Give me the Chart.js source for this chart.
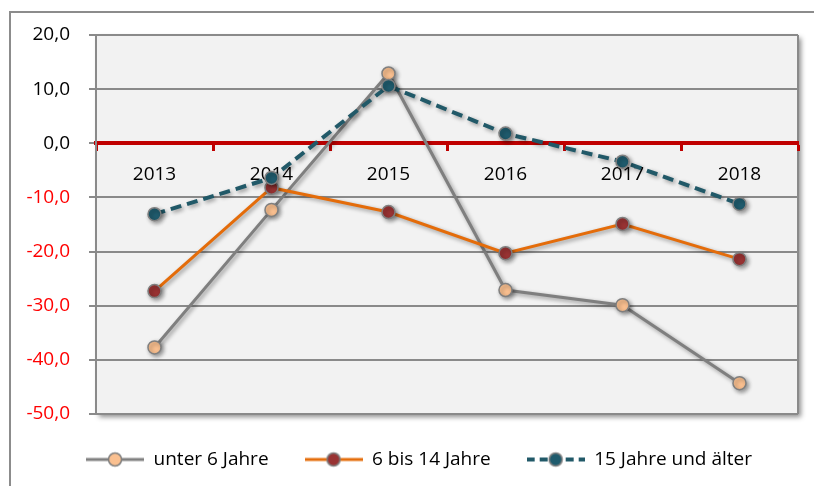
<!DOCTYPE html>
<html>
<head>
<meta charset="utf-8">
<script src="https://cdn.jsdelivr.net/npm/chart.js@4.4.1/dist/chart.umd.min.js"></script>
<style>
  html, body { margin: 0; padding: 0; background: #fff; }
  #wrap { width: 814px; height: 486px; }
</style>
</head>
<body>
<div id="wrap"><canvas id="chart" width="814" height="486"></canvas></div>
<script>
const years = [`2013`, `2014`, `2015`, `2016`, `2017`, `2018`];
const seriesNames = [`unter 6 Jahre`, `6 bis 14 Jahre`, `15 Jahre und älter`];
const under6 = [-37.7, -12.3, 12.9, -27.1, -29.9, -44.3];
const age6to14 = [-27.3, -8.2, -12.7, -20.3, -14.9, -21.4];
const age15plus = [-13.1, -6.4, 10.6, 1.8, -3.4, -11.2];
const yTicks = [20, 10, 0, -10, -20, -30, -40, -50];

const GRID_GRAY = `#8a8a8a`;
const ZERO_RED = `#c00000`;
const FONT = `'Open Sans', 'Liberation Sans', sans-serif`;

// little line + marker picture for the legend, like the excel one
const makeLegendIcon = (lineColor, lineWidth, dash, fill) => {
  const c = document.createElement(`canvas`);
  c.width = 58;
  c.height = 18;
  const g = c.getContext(`2d`);
  g.strokeStyle = lineColor;
  g.lineWidth = lineWidth;
  g.setLineDash(dash);
  g.beginPath();
  g.moveTo(0, 9);
  g.lineTo(58, 9);
  g.stroke();
  g.setLineDash([]);
  g.beginPath();
  g.arc(29, 9, 6.5, 0, Math.PI * 2);
  g.fillStyle = fill;
  g.fill();
  g.strokeStyle = `#7f7f7f`;
  g.lineWidth = 1.5;
  g.stroke();
  return c;
};

const legendIcons = [
  makeLegendIcon(`#7f7f7f`, 3, [], `#fac090`),
  makeLegendIcon(`#e46c0a`, 3, [], `#993333`),
  makeLegendIcon(`#215968`, 4, [8, 5], `#1f5b6d`),
];

const frameAndPlot = {
  id: `frameAndPlot`,
  afterInit(chart) {
    const fit = chart.legend.fit;
    chart.legend.fit = function () {
      fit.call(this);
      this.height = 72;
    };
  },
  afterLayout(chart) {
    // legend sits a bit right of the canvas middle in the original
    chart.legend.left = 40;
  },
  beforeDraw(chart) {
    const {ctx, chartArea: a} = chart;
    ctx.save();
    ctx.strokeStyle = `#8c8c8c`;
    ctx.lineWidth = 2;
    ctx.strokeRect(10, 12, 900, 600);
    ctx.shadowColor = `rgba(0, 0, 0, 0.45)`;
    ctx.shadowBlur = 5;
    ctx.shadowOffsetX = 3;
    ctx.shadowOffsetY = 3;
    ctx.fillStyle = `#f2f2f2`;
    ctx.fillRect(a.left, a.top, a.right - a.left, a.bottom - a.top);
    ctx.restore();
    ctx.save();
    ctx.strokeStyle = GRID_GRAY;
    ctx.lineWidth = 2;
    ctx.beginPath();
    ctx.moveTo(a.right, a.top);
    ctx.lineTo(a.right, a.bottom);
    ctx.stroke();
    ctx.restore();
  },
  beforeDatasetsDraw(chart) {
    const {ctx} = chart;
    ctx.save();
    ctx.shadowColor = `rgba(0, 0, 0, 0.4)`;
    ctx.shadowBlur = 4;
    ctx.shadowOffsetX = 2;
    ctx.shadowOffsetY = 2;
  },
  afterDatasetsDraw(chart) {
    chart.ctx.restore();
  },
};

const pointOpts = {
  pointRadius: 6.5,
  pointHoverRadius: 6.5,
  pointBorderWidth: 1.5,
  pointBorderColor: `#7f7f7f`,
  tension: 0,
};

new Chart(document.getElementById(`chart`).getContext(`2d`), {
  type: `line`,
  data: {
    labels: years,
    datasets: [
      Object.assign({
        label: seriesNames[0],
        data: under6,
        borderColor: `#7f7f7f`,
        borderWidth: 3,
        pointBackgroundColor: `#fac090`,
        order: 3,
      }, pointOpts),
      Object.assign({
        label: seriesNames[1],
        data: age6to14,
        borderColor: `#e46c0a`,
        borderWidth: 3,
        pointBackgroundColor: `#993333`,
        order: 2,
      }, pointOpts),
      Object.assign({
        label: seriesNames[2],
        data: age15plus,
        borderColor: `#215968`,
        borderWidth: 4,
        borderDash: [11, 6],
        pointBackgroundColor: `#1f5b6d`,
        order: 1,
      }, pointOpts),
    ],
  },
  options: {
    responsive: false,
    animation: false,
    events: [],
    layout: {padding: {left: 20, right: 16, top: 35, bottom: 0}},
    plugins: {
      tooltip: {enabled: false},
      legend: {
        position: `bottom`,
        labels: {
          usePointStyle: true,
          pointStyleWidth: 58,
          padding: 36,
          color: `#000`,
          font: {family: FONT, size: 19},
          generateLabels: (chart) => Chart.defaults.plugins.legend.labels.generateLabels(chart)
            .sort((a, b) => a.datasetIndex - b.datasetIndex)
            .map((item) => Object.assign(item, {pointStyle: legendIcons[item.datasetIndex]})),
        },
      },
    },
    scales: {
      x: {
        type: `category`,
        offset: true,
        position: {y: 0},
        border: {color: ZERO_RED, width: 4},
        grid: {
          offset: true,
          drawOnChartArea: false,
          drawTicks: true,
          tickLength: 6,
          tickColor: ZERO_RED,
          tickWidth: 3,
        },
        ticks: {
          color: `#000`,
          padding: 14,
          maxRotation: 0,
          font: {family: FONT, size: 19},
        },
      },
      y: {
        min: yTicks[yTicks.length - 1],
        max: yTicks[0],
        afterFit: (scale) => {
          scale.width = 76;
        },
        afterBuildTicks: (scale) => {
          scale.ticks = yTicks.map((v) => ({value: v}));
        },
        border: {color: GRID_GRAY, width: 2},
        grid: {
          color: GRID_GRAY,
          lineWidth: 2,
          tickLength: 7,
          tickColor: GRID_GRAY,
          tickWidth: 2,
        },
        ticks: {
          padding: 19,
          color: (ctx) => (ctx.tick.value < 0 ? `#ff0000` : `#000`),
          font: {family: FONT, size: 19},
          callback: (v) => v.toFixed(1).replace(`.`, `,`),
        },
      },
    },
  },
  plugins: [frameAndPlot],
});
</script>
</body>
</html>
